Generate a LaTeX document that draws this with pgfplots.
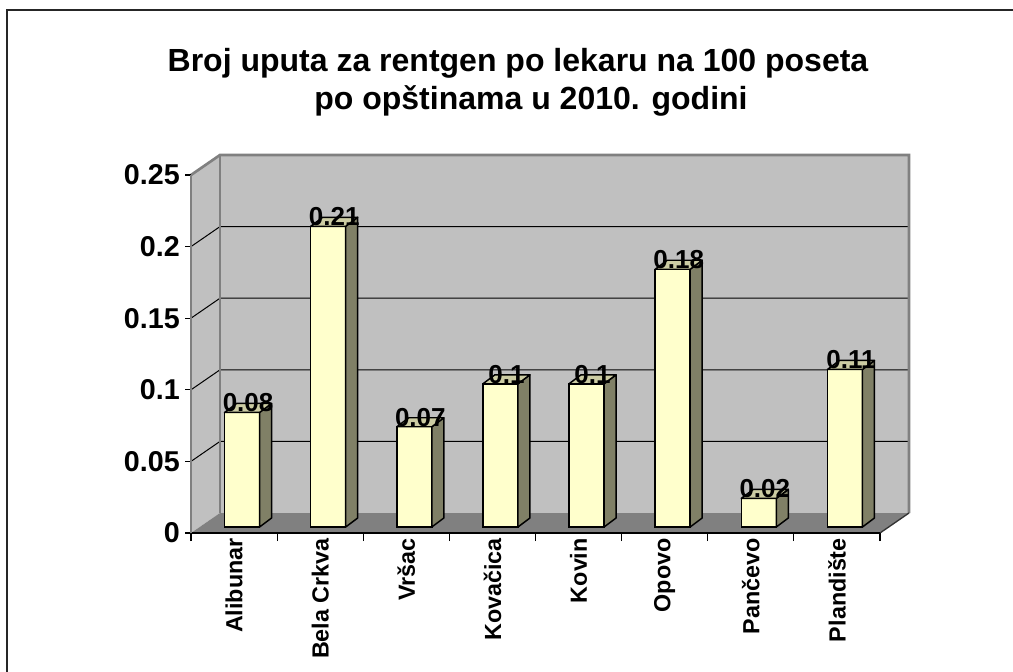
\documentclass[border=0pt]{standalone}
\usepackage{pgfplots}
\pgfplotsset{compat=1.18}
\usepackage{fontspec}
\setmainfont{Liberation Sans}
\definecolor{wall}{HTML}{C0C0C0}
\definecolor{edge}{HTML}{808080}
\definecolor{floorc}{HTML}{808080}
\definecolor{barf}{HTML}{FFFFCC}
\definecolor{bars}{HTML}{808066}
\definecolor{bart}{HTML}{CCCCA3}
\pgfdeclareplotmark{bside}{%
  \pgfmathsetmacro\h{\ry*1074}%
  \pgfsetlinewidth{1.1pt}\pgfsetroundjoin
  \pgfsetstrokecolor{black}%
  \pgfsetfillcolor{bars}%
  \pgfpathmoveto{\pgfpoint{19.125pt}{4.5pt}}%
  \pgfpathlineto{\pgfpoint{28.125pt}{11.25pt}}%
  \pgfpathlineto{\pgfpoint{28.125pt}{11.25pt-\h pt}}%
  \pgfpathlineto{\pgfpoint{19.125pt}{4.5pt-\h pt}}%
  \pgfpathclose
  \pgfusepath{fill,stroke}%
  \pgfsetfillcolor{bart}%
  \pgfpathmoveto{\pgfpoint{-7.125pt}{4.5pt}}%
  \pgfpathlineto{\pgfpoint{19.125pt}{4.5pt}}%
  \pgfpathlineto{\pgfpoint{28.125pt}{11.25pt}}%
  \pgfpathlineto{\pgfpoint{1.875pt}{11.25pt}}%
  \pgfpathclose
  \pgfusepath{fill,stroke}%
}
\begin{document}
\begin{tikzpicture}
\begin{axis}[
  set layers,
  clip=false,
  x=64.59375pt, y=1074pt,
  xmin=0, xmax=8, ymin=0, ymax=0.25,
  axis x line*=bottom, axis y line*=left,
  x axis line style={black, line width=1pt},
  y axis line style={edge, line width=1.2pt},
  ytick={0,0.05,0.1,0.15,0.2,0.25},
  yticklabels={0,0.05,0.1,0.15,0.2,0.25},
  xtick={0.5,1.5,2.5,3.5,4.5,5.5,6.5,7.5},
  xticklabels={Alibunar,Bela Crkva,Vršac,Kovačica,Kovin,Opovo,Pančevo,Plandište},
  minor xtick={0,1,2,3,4,5,6,7,8},
  tick align=outside,
  major tick length=4.5pt, minor tick length=6pt,
  major x tick style={draw=none},
  minor x tick style={black, line width=0.8pt},
  y tick style={black, line width=0.8pt},
  /pgf/number format/assume math mode=true,
  yticklabel style={font=\fontsize{21.5}{24}\selectfont\bfseries, anchor=east, inner sep=0pt},
  yticklabel shift=3.75pt,
  xticklabel style={font=\fontsize{17.5}{20}\selectfont\bfseries, rotate=90, anchor=east, inner sep=0pt},
  xticklabel shift=-0.75pt,
]
\begin{pgfonlayer}{axis background}
  \fill[wall] ([shift={(21.75pt,15pt)}]axis cs:0,0) rectangle ([shift={(21.75pt,15pt)}]axis cs:8,0.25);
  \fill[wall] (axis cs:0,0) -- (axis cs:0,0.25) -- ([shift={(21.75pt,15pt)}]axis cs:0,0.25) -- ([shift={(21.75pt,15pt)}]axis cs:0,0) -- cycle;
  \fill[floorc] (axis cs:0,0) -- (axis cs:8,0) -- ([shift={(21.75pt,15pt)}]axis cs:8,0) -- ([shift={(21.75pt,15pt)}]axis cs:0,0) -- cycle;
  \draw[black, line width=0.75pt] (axis cs:0,0.05) -- ([shift={(21.75pt,15pt)}]axis cs:0,0.05) -- ([shift={(21.75pt,15pt)}]axis cs:8,0.05);
  \draw[black, line width=0.75pt] (axis cs:0,0.1) -- ([shift={(21.75pt,15pt)}]axis cs:0,0.1) -- ([shift={(21.75pt,15pt)}]axis cs:8,0.1);
  \draw[black, line width=0.75pt] (axis cs:0,0.15) -- ([shift={(21.75pt,15pt)}]axis cs:0,0.15) -- ([shift={(21.75pt,15pt)}]axis cs:8,0.15);
  \draw[black, line width=0.75pt] (axis cs:0,0.2) -- ([shift={(21.75pt,15pt)}]axis cs:0,0.2) -- ([shift={(21.75pt,15pt)}]axis cs:8,0.2);
  \draw[edge, line width=2pt, line join=miter] (axis cs:0,0.25) -- ([shift={(21.75pt,15pt)}]axis cs:0,0.25) -- ([shift={(21.75pt,15pt)}]axis cs:8,0.25) -- ([shift={(21.75pt,15pt)}]axis cs:8,0);
  \draw[edge, line width=2pt] ([shift={(21.75pt,15pt)}]axis cs:0,0.25) -- ([shift={(21.75pt,15pt)}]axis cs:0,0);
  \draw[black!80, line width=1pt] (axis cs:8,0) -- ([shift={(21.75pt,15pt)}]axis cs:8,0);
\end{pgfonlayer}
\coordinate (O) at (axis cs:0,0);
\addplot[ybar, bar width=26.25pt, bar shift=6pt, yshift=4.5pt, fill=barf, draw=black, line width=1.1pt]
  coordinates {(0.5,0.08) (1.5,0.21) (2.5,0.07) (3.5,0.1) (4.5,0.1) (5.5,0.18) (6.5,0.02) (7.5,0.11)};
\addplot[scatter, only marks, mark=bside,
  visualization depends on={rawy \as \ry},
  scatter/use mapped color={draw=black, fill=black},
  nodes near coords={\pgfmathprintnumber[fixed,precision=2,assume math mode=true]{\pgfplotspointmeta}},
  every node near coord/.append style={anchor=base, xshift=10.5pt, yshift=5pt, text=black, inner sep=0pt, font=\fontsize{19.5}{22}\selectfont\bfseries}]
  coordinates {(0.5,0.08) (1.5,0.21) (2.5,0.07) (3.5,0.1) (4.5,0.1) (5.5,0.18) (6.5,0.02) (7.5,0.11)};
\end{axis}
\node[anchor=base, font=\fontsize{24}{28}\selectfont\bfseries] at ([shift={(245.25pt,345.75pt)}]O) {Broj uputa za rentgen po lekaru na 100 poseta};
\node[anchor=base, font=\fontsize{24}{28}\selectfont\bfseries] at ([shift={(255pt,317.25pt)}]O) {po opštinama u 2010. godini};
\draw[black!85, line width=1.5pt] ([shift={(-138pt,392.25pt)}]O) rectangle ([shift={(700pt,-200pt)}]O);
\pgfresetboundingbox
\path[use as bounding box] ([shift={(-143.25pt,-103.5pt)}]O) rectangle ([shift={(616.5pt,399.75pt)}]O);
\end{tikzpicture}
\end{document}
